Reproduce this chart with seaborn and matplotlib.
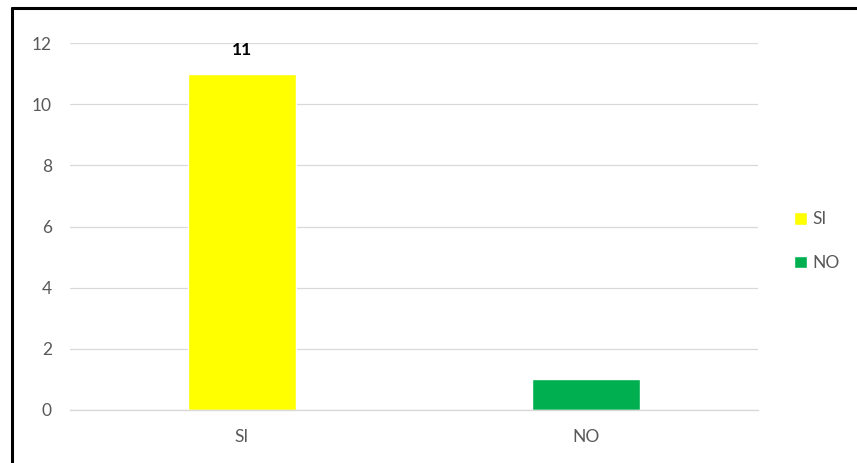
import matplotlib
matplotlib.use("Agg")
import matplotlib.pyplot as plt
import seaborn as sns
import pandas as pd
from matplotlib.lines import Line2D

# --- Data ---
categories = ["SI", "NO"]
counts = [11, 1]
bar_colors = ["#FFFF00", "#00B050"]
labeled = ["SI"]  # only this bar shows its value

sns.set_theme(style="white")
plt.rcParams['font.family'] = ['Lato', 'DejaVu Sans']

df = pd.DataFrame({"Respuesta": categories, "Cantidad": counts})

fig = plt.figure(figsize=(8.57, 4.63), dpi=100)
ax = fig.add_axes([70 / 857, 1 - 410 / 463, (758 - 70) / 857, (410 - 43) / 463])

sns.barplot(data=df, x="Respuesta", y="Cantidad", hue="Respuesta",
            palette=dict(zip(categories, bar_colors)), width=0.314,
            dodge=False, legend=True, ax=ax, saturation=1)

ax.set_ylim(0, 12)
ax.set_yticks(range(0, 13, 2))
ax.set_xlim(-0.5, 1.5)
ax.grid(axis="y", color="#D9D9D9", linewidth=0.9)
ax.set_axisbelow(True)
for s in ["top", "right", "left"]:
    ax.spines[s].set_visible(False)
ax.spines["bottom"].set_color("#D9D9D9")
ax.spines["bottom"].set_linewidth(1.0)
ax.tick_params(axis="both", colors="#595959", labelsize=12.5, length=0)
ax.tick_params(axis="y", pad=13)
ax.tick_params(axis="x", pad=14)
ax.set_xlabel("")
ax.set_ylabel("")

# value label
for cont, cat in zip(ax.containers, categories):
    if cat in labeled:
        ax.bar_label(cont, fmt="%d", padding=11, fontsize=12.5, fontweight="bold", color="black")

# legend
leg = ax.legend(loc="center left", bbox_to_anchor=(1.03, 0.46), frameon=False,
                handlelength=0.75, handleheight=0.75, handletextpad=0.3,
                labelspacing=1.6, fontsize=12.5)
for t in leg.get_texts():
    t.set_color("#595959")

# frame lines from the original screenshot
fig.add_artist(Line2D([12 / 857, 1], [1 - 8 / 463, 1 - 8 / 463], color="black", linewidth=2.2,
                      transform=fig.transFigure))
fig.add_artist(Line2D([12 / 857, 12 / 857], [0, 1 - 8 / 463], color="black", linewidth=2.2,
                      transform=fig.transFigure))

fig.savefig("out.png", dpi=100)
